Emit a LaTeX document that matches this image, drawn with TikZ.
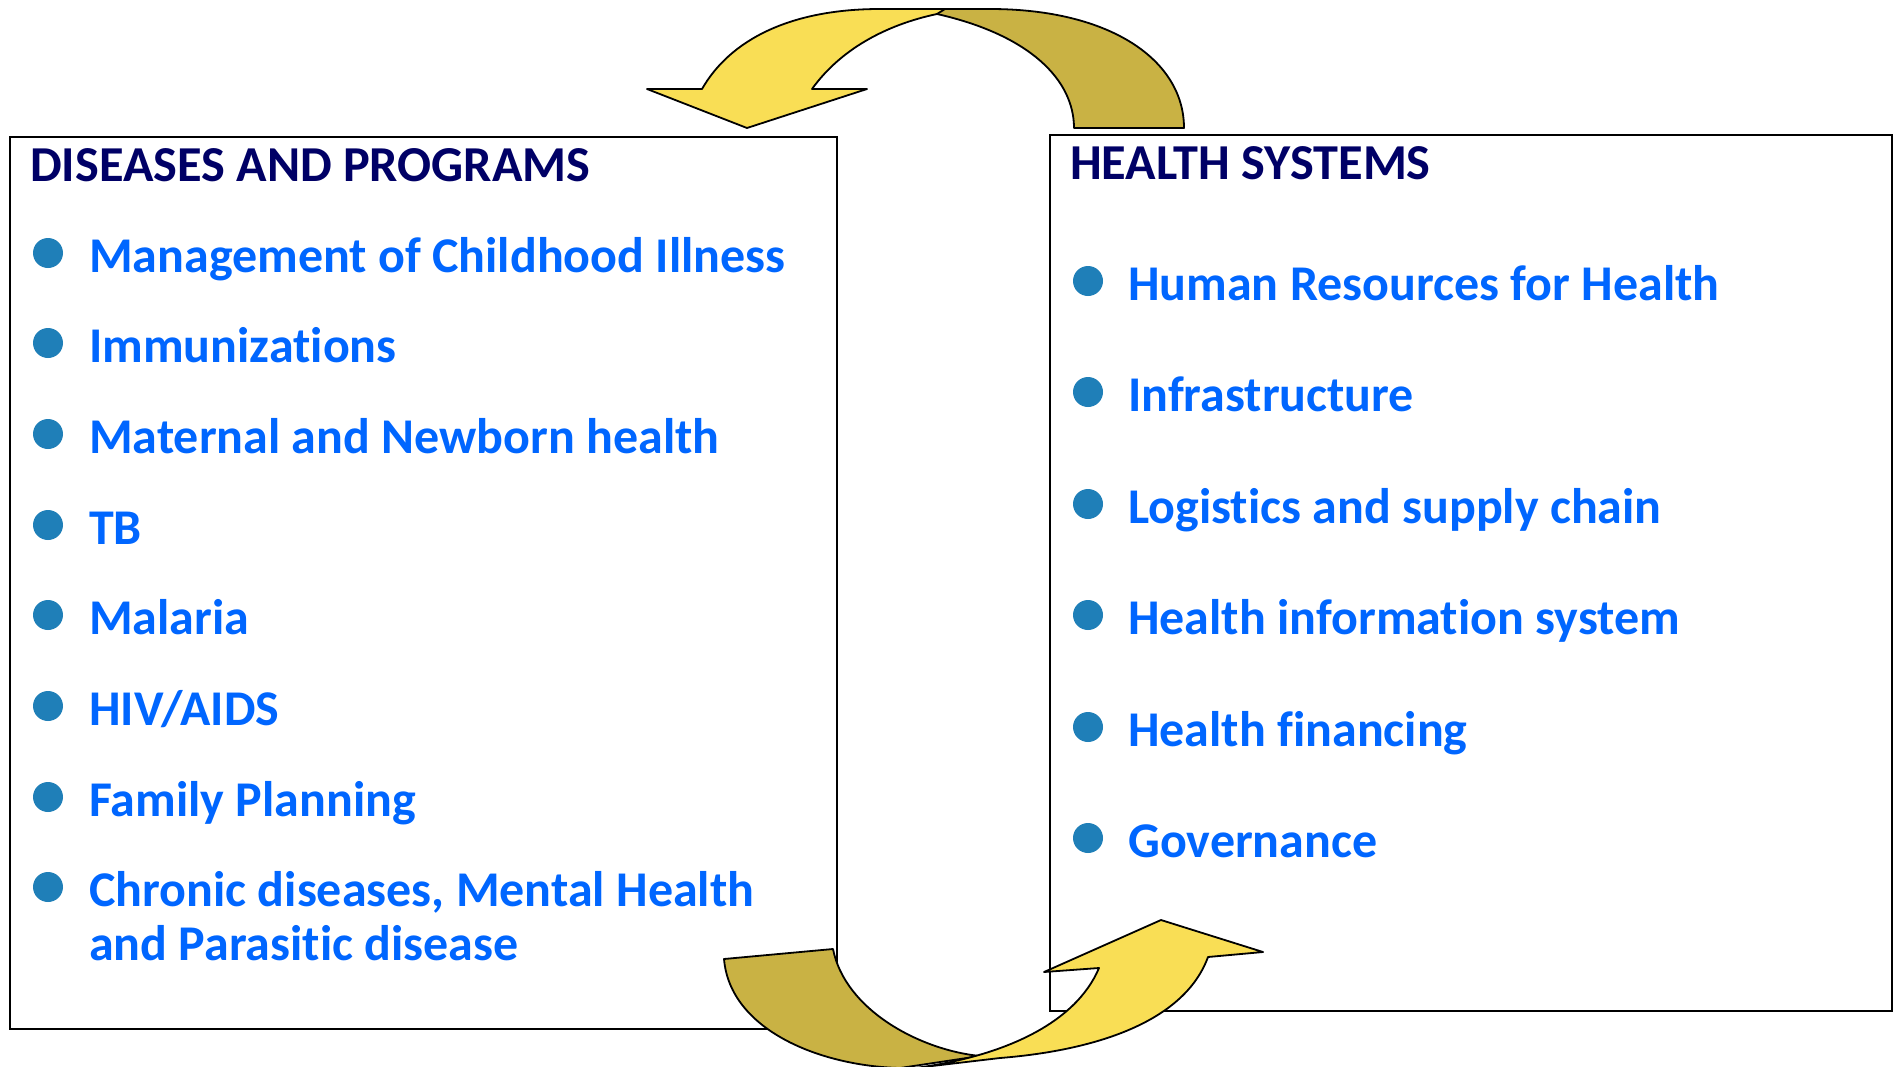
\documentclass[tikz,border=0pt]{standalone}
\usepackage{fontspec}
\setmainfont[Ligatures=CommonOff]{Carlito}
\definecolor{titleblue}{HTML}{000066}
\definecolor{itemblue}{HTML}{0066FF}
\definecolor{dotblue}{HTML}{1F7FB8}
\definecolor{lightgold}{HTML}{F9DE55}
\definecolor{darkgold}{HTML}{C9B244}
\begin{document}
\begin{tikzpicture}[x=1pt,y=-1pt,
  boxline/.style={draw=black, line width=2pt},
  bulletdot/.style={circle, fill=dotblue, minimum size=30pt, inner sep=0pt},
  itemtext/.style={anchor=base west, inner sep=0pt, text=itemblue, font=\fontsize{50}{54}\selectfont\bfseries, align=left},
  heading/.style={anchor=base west, inner sep=0pt, text=titleblue, font=\fontsize{50.3}{56}\selectfont\bfseries},
  arrowlight/.style={fill=lightgold, draw=black, line width=1.8pt, line join=round},
  arrowdark/.style={fill=darkgold, draw=black, line width=1.8pt, line join=round}]
\useasboundingbox (0,0) rectangle (1896,1066);
\fill[white] (0,0) rectangle (1896,1066);
% boxes
\draw[boxline] (10,137) rectangle (837,1029);
\draw[boxline] (1050,135) rectangle (1892,1011);
% top arrow
\draw[arrowdark] (937,14) .. controls (1030,35) and (1074,80) .. (1074,128) -- (1184,128) .. controls (1184,60) and (1110,9) .. (990,9) -- (900,9) -- cycle;
\draw[arrowlight] (702,89) .. controls (730,40) and (790,9) .. (880,9) -- (945,9) -- (937,14) .. controls (885,25) and (840,50) .. (812,89) -- (867,89) -- (747,128) -- (647,89) -- cycle;
% bottom arrow
\draw[arrowdark] (724,959) -- (833,949) .. controls (845,1010) and (920,1050) .. (980,1056) -- (900,1068) .. controls (820,1066) and (730,1030) .. (724,959) -- cycle;
\draw[arrowlight] (915,1068) .. controls (1000,1057) and (1075,1025) .. (1099,968) -- (1044,972) -- (1161,920) -- (1263,952) -- (1208,957) .. controls (1185,1020) and (1100,1050) .. (1000,1058) -- cycle;
% headings
\node[heading] (dphead) at (30,181) {DISEASES AND PROGRAMS};
\node[heading] (hshead) at (1070,179) {HEALTH SYSTEMS};
% left items
\node[bulletdot] (ld1) at (48,253) {};
\node[itemtext] (lt1) at (89,272) {Management of Childhood Illness};
\node[bulletdot] (ld2) at (48,343) {};
\node[itemtext] (lt2) at (89,362) {Immunizations};
\node[bulletdot] (ld3) at (48,434) {};
\node[itemtext] (lt3) at (89,453) {Maternal and Newborn health};
\node[bulletdot] (ld4) at (48,525) {};
\node[itemtext] (lt4) at (89,544) {TB};
\node[bulletdot] (ld5) at (48,615) {};
\node[itemtext] (lt5) at (89,634) {Malaria};
\node[bulletdot] (ld6) at (48,706) {};
\node[itemtext] (lt6) at (89,725) {HIV/AIDS};
\node[bulletdot] (ld7) at (48,797) {};
\node[itemtext] (lt7) at (89,816) {Family Planning};
\node[bulletdot] (ld8) at (48,887) {};
\node[itemtext] (lt8) at (89,960) {Chronic diseases, Mental Health\\and Parasitic disease};
% right items
\node[bulletdot] (rd1) at (1088,281) {};
\node[itemtext] (rt1) at (1128,300) {Human Resources for Health};
\node[bulletdot] (rd2) at (1088,392) {};
\node[itemtext] (rt2) at (1128,411) {Infrastructure};
\node[bulletdot] (rd3) at (1088,504) {};
\node[itemtext] (rt3) at (1128,523) {Logistics and supply chain};
\node[bulletdot] (rd4) at (1088,615) {};
\node[itemtext] (rt4) at (1128,634) {Health information system};
\node[bulletdot] (rd5) at (1088,727) {};
\node[itemtext] (rt5) at (1128,746) {Health financing};
\node[bulletdot] (rd6) at (1088,838) {};
\node[itemtext] (rt6) at (1128,857) {Governance};
\end{tikzpicture}
\end{document}
